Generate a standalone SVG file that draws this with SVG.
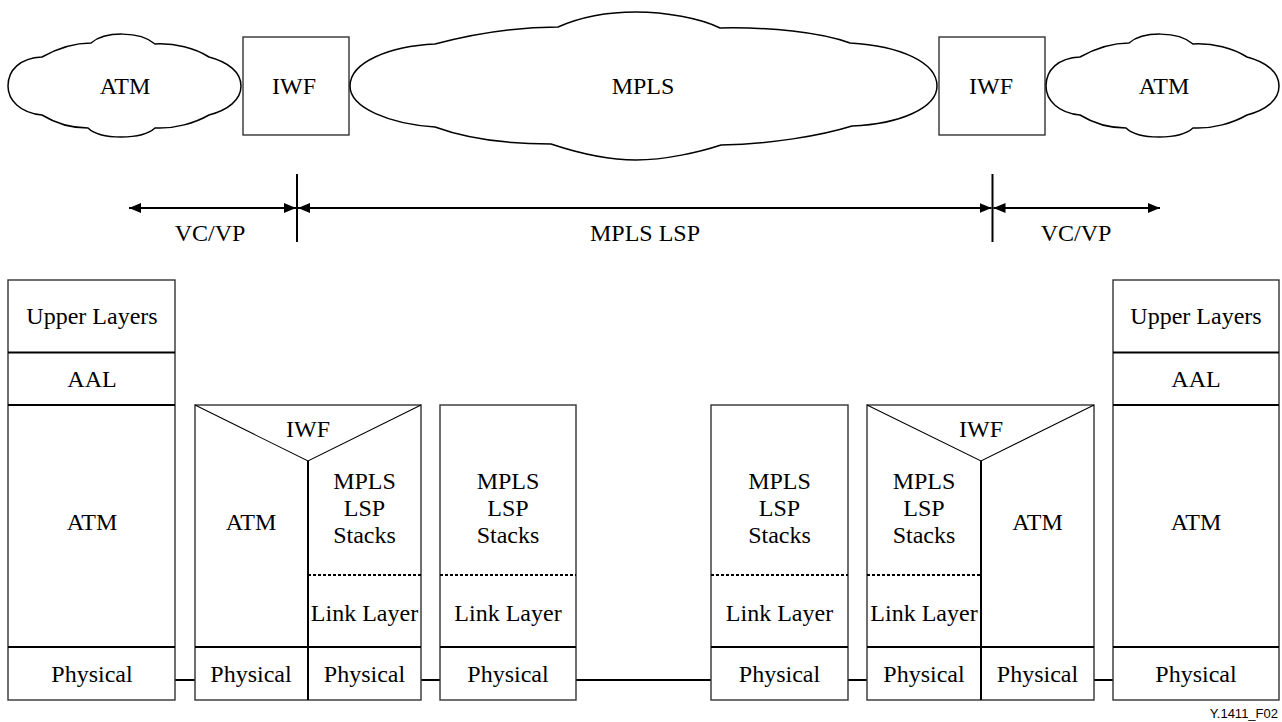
<svg xmlns="http://www.w3.org/2000/svg" width="1282" height="722" viewBox="0 0 1282 722">
  <style>
    .t { font-family: "Liberation Serif", "Times New Roman", serif; font-size: 24px; fill: #000; text-anchor: middle; }
    .cap { font-family: "Liberation Sans", Arial, sans-serif; font-size: 13px; fill: #000; text-anchor: end; }
    .cloud { fill: #fff; stroke: #000; stroke-width: 1.5; }
    .box { fill: #fff; stroke: #333; stroke-width: 1.4; }
    .div { stroke: #000; stroke-width: 2; fill: none; }
    .thin { stroke: #000; stroke-width: 1.1; fill: none; }
    .dot { stroke: #000; stroke-width: 2; stroke-dasharray: 3 2; fill: none; }
    .wire { stroke: #000; stroke-width: 2; fill: none; }
  </style>
  <defs>
    <marker id="ah" viewBox="0 0 12 10" refX="12" refY="5" markerWidth="12" markerHeight="10" markerUnits="userSpaceOnUse" orient="auto-start-reverse">
      <path d="M0,0 L12,5 L0,10 Z" fill="#000"/>
    </marker>
    <!-- small ATM cloud outline, drawn at the left position -->
    <path id="smallCloud" d="M8,86 C8,70 20,58 42,57 C60,47 75,43 91,43 C105,31 140,31 155,44 C175,43 195,48 209,57 C228,62 241,72 241,86 C241,100 228,110 209,115 C195,123 175,129 155,128 C142,140 100,140 88,128 C70,128 55,123 42,115 C20,113 8,100 8,86 Z"/>
  </defs>

  <rect x="0" y="0" width="1282" height="722" fill="#fff"/>

  <!-- network row -->
  <g id="cloud-atm-left">
    <use href="#smallCloud" class="cloud"/>
    <text class="t" x="125" y="94">ATM</text>
  </g>
  <g id="iwf-left">
    <rect class="box" x="243" y="37" width="106" height="98"/>
    <text class="t" x="294" y="94">IWF</text>
  </g>
  <g id="cloud-mpls">
    <path class="cloud" d="M350,86 C350,62 390,46 435,44 C480,32 525,27 558,27 C585,15 610,12 636,12 C665,12 700,18 720,28 C770,27 820,32 850,43 C900,46 937,62 937,86 C937,108 900,124 852,126 C820,136 770,144 721,145 C700,152 665,160 636,160 C605,160 575,152 551,144 C500,144 465,138 435,127 C390,124 350,108 350,86 Z"/>
    <text class="t" x="643" y="94">MPLS</text>
  </g>
  <g id="iwf-right">
    <rect class="box" x="939" y="37" width="106" height="98"/>
    <text class="t" x="991" y="94">IWF</text>
  </g>
  <g id="cloud-atm-right">
    <use href="#smallCloud" class="cloud" transform="translate(1038,0)"/>
    <text class="t" x="1164" y="94">ATM</text>
  </g>

  <!-- connection spans -->
  <g id="spans">
    <line class="div" x1="297" y1="174" x2="297" y2="242"/>
    <line class="div" x1="992.5" y1="174" x2="992.5" y2="242"/>
    <line class="wire" x1="129" y1="208" x2="296" y2="208" marker-start="url(#ah)" marker-end="url(#ah)"/>
    <line class="wire" x1="298" y1="208" x2="991.5" y2="208" marker-start="url(#ah)" marker-end="url(#ah)"/>
    <line class="wire" x1="993.5" y1="208" x2="1160" y2="208" marker-start="url(#ah)" marker-end="url(#ah)"/>
    <text class="t" x="210" y="241">VC/VP</text>
    <text class="t" x="645" y="241">MPLS LSP</text>
    <text class="t" x="1076" y="241">VC/VP</text>
  </g>

  <!-- physical links -->
  <g id="connectors">
    <line class="wire" x1="175" y1="680" x2="195" y2="680"/>
    <line class="wire" x1="421" y1="680" x2="440" y2="680"/>
    <line class="wire" x1="576" y1="680" x2="711" y2="680"/>
    <line class="wire" x1="848" y1="680" x2="867" y2="680"/>
    <line class="wire" x1="1094" y1="680" x2="1113" y2="680"/>
  </g>

  <!-- ATM end system, left -->
  <g id="stack-atm-left">
    <rect class="box" x="8" y="280" width="167" height="420"/>
    <line class="div" x1="8" y1="352.5" x2="175" y2="352.5"/>
    <line class="div" x1="8" y1="405" x2="175" y2="405"/>
    <line class="div" x1="8" y1="647" x2="175" y2="647"/>
    <text class="t" x="92" y="324">Upper Layers</text>
    <text class="t" x="92" y="387">AAL</text>
    <text class="t" x="92" y="530">ATM</text>
    <text class="t" x="92" y="682">Physical</text>
  </g>

  <!-- interworking function, left -->
  <g id="stack-iwf-left">
    <rect class="box" x="195" y="405" width="226" height="295"/>
    <polyline class="thin" points="195,405 308,461 421,405"/>
    <line class="div" x1="308" y1="461" x2="308" y2="700"/>
    <line class="dot" x1="308" y1="575" x2="421" y2="575"/>
    <line class="div" x1="195" y1="647" x2="421" y2="647"/>
    <text class="t" x="308" y="437">IWF</text>
    <text class="t" x="251" y="530">ATM</text>
    <text class="t" x="364.5" y="489">MPLS</text>
    <text class="t" x="364.5" y="516">LSP</text>
    <text class="t" x="364.5" y="543">Stacks</text>
    <text class="t" x="364.5" y="621">Link Layer</text>
    <text class="t" x="251" y="682">Physical</text>
    <text class="t" x="364.5" y="682">Physical</text>
  </g>

  <!-- LSR, left -->
  <g id="stack-lsr-left">
    <rect class="box" x="440" y="405" width="136" height="295"/>
    <line class="dot" x1="440" y1="575" x2="576" y2="575"/>
    <line class="div" x1="440" y1="647" x2="576" y2="647"/>
    <text class="t" x="508" y="489">MPLS</text>
    <text class="t" x="508" y="516">LSP</text>
    <text class="t" x="508" y="543">Stacks</text>
    <text class="t" x="508" y="621">Link Layer</text>
    <text class="t" x="508" y="682">Physical</text>
  </g>

  <!-- LSR, right -->
  <g id="stack-lsr-right">
    <rect class="box" x="711" y="405" width="137" height="295"/>
    <line class="dot" x1="711" y1="575" x2="848" y2="575"/>
    <line class="div" x1="711" y1="647" x2="848" y2="647"/>
    <text class="t" x="779.5" y="489">MPLS</text>
    <text class="t" x="779.5" y="516">LSP</text>
    <text class="t" x="779.5" y="543">Stacks</text>
    <text class="t" x="779.5" y="621">Link Layer</text>
    <text class="t" x="779.5" y="682">Physical</text>
  </g>

  <!-- interworking function, right -->
  <g id="stack-iwf-right">
    <rect class="box" x="867" y="405" width="227" height="295"/>
    <polyline class="thin" points="867,405 981,461 1094,405"/>
    <line class="div" x1="981" y1="461" x2="981" y2="700"/>
    <line class="dot" x1="867" y1="575" x2="981" y2="575"/>
    <line class="div" x1="867" y1="647" x2="1094" y2="647"/>
    <text class="t" x="981" y="437">IWF</text>
    <text class="t" x="924" y="489">MPLS</text>
    <text class="t" x="924" y="516">LSP</text>
    <text class="t" x="924" y="543">Stacks</text>
    <text class="t" x="924" y="621">Link Layer</text>
    <text class="t" x="1037.5" y="530">ATM</text>
    <text class="t" x="924" y="682">Physical</text>
    <text class="t" x="1037.5" y="682">Physical</text>
  </g>

  <!-- ATM end system, right -->
  <g id="stack-atm-right">
    <rect class="box" x="1113" y="280" width="166" height="420"/>
    <line class="div" x1="1113" y1="352.5" x2="1279" y2="352.5"/>
    <line class="div" x1="1113" y1="405" x2="1279" y2="405"/>
    <line class="div" x1="1113" y1="647" x2="1279" y2="647"/>
    <text class="t" x="1196" y="324">Upper Layers</text>
    <text class="t" x="1196" y="387">AAL</text>
    <text class="t" x="1196" y="530">ATM</text>
    <text class="t" x="1196" y="682">Physical</text>
  </g>

  <text class="cap" x="1278" y="718">Y.1411_F02</text>
</svg>
